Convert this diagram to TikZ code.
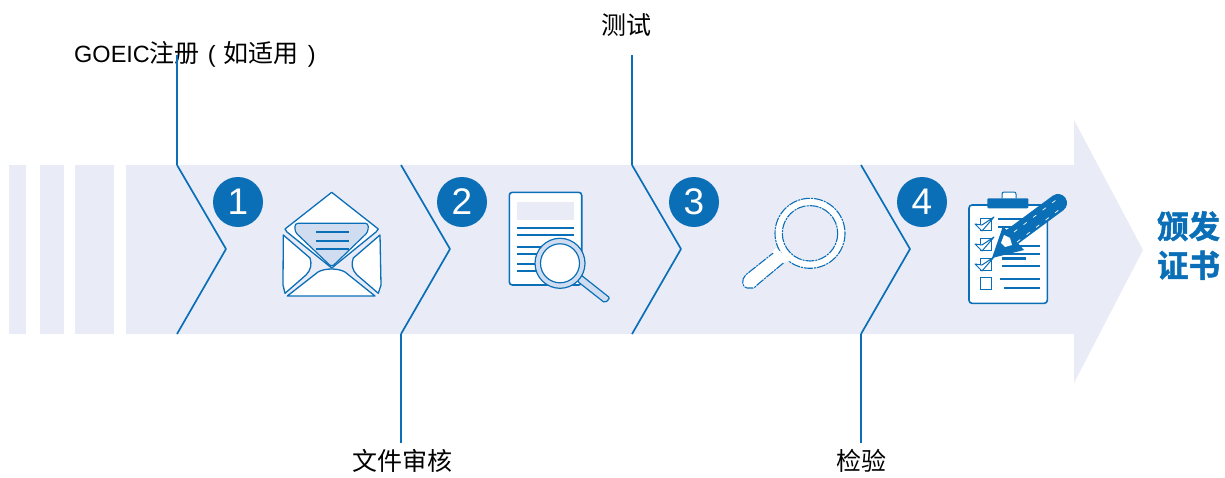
\documentclass[tikz,border=0pt]{standalone}
\usepackage{fontspec}
\setmainfont{Liberation Sans}
\newfontfamily\cjk{Noto Sans CJK SC}
\newfontfamily\cjkb[BoldFont={Noto Sans CJK SC Bold},BoldFeatures={FakeBold=1.6}]{Noto Sans CJK SC}
\definecolor{bandc}{HTML}{E9ECF7}
\definecolor{blue1}{HTML}{0B6FB8}
\definecolor{lilac}{HTML}{D0DDF0}
\tikzset{
  band/.style={fill=bandc,draw=none},
  chev/.style={draw=blue1,line width=1.7pt,line join=round},
  lead/.style={draw=blue1,line width=2pt},
  numdot/.style={circle,fill=blue1,text=white,minimum size=50pt,inner sep=0pt,font=\fontsize{37}{37}\selectfont},
  lbl/.style={text=black,inner sep=0pt,font=\fontsize{25}{25}\selectfont\cjk},
  whitepart/.style={fill=white,draw=blue1,line width=1.3pt,line join=round},
  inkline/.style={draw=blue1,line width=2.2pt},
  thinpart/.style={fill=white,draw=blue1,line width=1.1pt,dash pattern=on 9pt off 1pt on 2pt off 1pt},
}
\newcommand{\latinpart}[1]{{\fontspec{Liberation Sans}\fontsize{23.5}{25}\selectfont #1}}
\begin{document}
\begin{tikzpicture}[x=1pt,y=-1pt]
\useasboundingbox (0,0) rectangle (1225,477);
% band
\fill[band] (9,165) rectangle (26,334);
\fill[band] (40,165) rectangle (64,334);
\fill[band] (75,165) rectangle (114,334);
\fill[band] (126,165) -- (1074,165) -- (1074,120) -- (1143,250) -- (1074,383) -- (1074,334) -- (126,334) -- cycle;
% labels
\node[lbl,anchor=west] (l1) at (74,54) {\latinpart{GOEIC}注册\hspace{8pt}\latinpart{(}\hspace{8pt}如适用\hspace{9pt}\latinpart{)}};
\node[lbl] (l2) at (402.5,461) {文件审核};
\node[lbl] (l3) at (626.5,25) {测试};
\node[lbl] (l4) at (861.5,461) {检验};
% chevrons
\coordinate (c1t) at (177,165); \coordinate (c1m) at (226,249); \coordinate (c1b) at (177,334);
\coordinate (c2t) at (401,165); \coordinate (c2m) at (450,249); \coordinate (c2b) at (401,334);
\coordinate (c3t) at (632,165); \coordinate (c3m) at (681,249); \coordinate (c3b) at (632,334);
\coordinate (c4t) at (861,165); \coordinate (c4m) at (910,249); \coordinate (c4b) at (861,334);
\coordinate (e1) at (177,55); \coordinate (e2) at (401,443); \coordinate (e3) at (632,55); \coordinate (e4) at (861,443);
\draw[chev] (c1t) -- (c1m) -- (c1b);
\draw[chev] (c2t) -- (c2m) -- (c2b);
\draw[chev] (c3t) -- (c3m) -- (c3b);
\draw[chev] (c4t) -- (c4m) -- (c4b);
\draw[lead] (e1) -- (c1t);
\draw[lead] (c2b) -- (e2);
\draw[lead] (e3) -- (c3t);
\draw[lead] (c4b) -- (e4);
% numbers
\node[numdot] (n1) at (238,202) {1};
\node[numdot] (n2) at (462,202) {2};
\node[numdot] (n3) at (694,202) {3};
\node[numdot] (n4) at (922,202) {4};
% envelope
\draw[whitepart] (331.7,192.3) -- (378.3,229) -- (376,232) -- (331.7,268) -- (287,232) -- (285,229) -- cycle;
\draw[draw=blue1,fill=lilac,line width=1.2pt,rounded corners=3pt] (295,223.3) -- (368.3,223.3) -- (368,232) -- (331.7,267) -- (295,232) -- cycle;
\draw[whitepart] (283.3,235) -- (310,258) .. controls (312,264) and (311,270) .. (306,275) -- (285,293.3) -- (283,285) -- cycle;
\draw[whitepart] (380,235) -- (353.3,258) .. controls (351,264) and (352,270) .. (357,275) -- (378.3,293.3) -- (381,285) -- cycle;
\draw[whitepart] (287.3,296) -- (318,272) .. controls (325,268) and (338,268) .. (345,272) -- (375,296) -- cycle;
\draw[inkline] (316,232.3) -- (349,232.3);
\draw[inkline] (316,241) -- (349,241);
\draw[inkline] (316,249.3) -- (349,249.3);
% document
\draw[fill=white,draw=blue1,line width=1.6pt,rounded corners=3pt] (509.3,192.3) rectangle (581.7,285);
\fill[bandc] (516.7,201.7) rectangle (574,220);
\foreach \yy in {228.3,235,247.3,254.3,264.3,271}{\draw[inkline] (517.3,\yy) -- (574,\yy);}
\draw[fill=lilac,draw=blue1,line width=1.2pt,line join=round,rounded corners=2pt] (577,281) -- (605,303) -- (610,298) -- (581,275) -- cycle;
\draw[fill=lilac,draw=blue1,line width=1.2pt] (560,263.3) circle[radius=25];
\draw[fill=white,draw=blue1,line width=1.2pt] (560,263.3) circle[radius=19.5];
% magnifier
\path[thinpart,rounded corners=3pt] (778.3,249) -- (748,273) .. controls (741,279) and (742,288) .. (750,288) .. controls (753,288) and (755,287) .. (757,285) -- (787,260) -- cycle;
\path[thinpart] (810,233.3) circle[radius=35];
\fill[white] (776,248) -- (790,260) -- (784,263) -- (772,252) -- cycle;
\path[thinpart,fill=bandc] (810,233.3) circle[radius=27.7];
% clipboard
\draw[whitepart,line width=1.6pt,rounded corners=3pt] (969,205) rectangle (1047.3,303.3);
\draw[draw=blue1,fill=white,line width=1pt,rounded corners=2pt] (1002,198.3) -- (1002,192) -- (1016,192) -- (1016,198.3);
\fill[blue1,rounded corners=1pt] (987.3,198.3) rectangle (1028.3,208.3);
\foreach \yy in {218,238,258}{
  \draw[draw=blue1,fill=white,line width=1pt] (980.7,\yy) rectangle (991.7,\yy+12);
  \draw[draw=blue1,fill=white,line width=1pt,line join=round] (975,\yy+6) -- (982,\yy+13) -- (994,\yy-1) -- (982,\yy+7) -- cycle;
}
\draw[draw=blue1,line width=1pt] (980.7,277) rectangle (991.7,289.5);
\draw[inkline] (998,219) -- (1030,219);
\draw[inkline] (998,227) -- (1030,227);
\draw[inkline] (1003,246) -- (1040,246);
\draw[inkline] (1000,254) -- (1040,254);
\draw[line width=3pt,blue1] (1002,258.5) -- (1026,258.5);
\draw[inkline] (1002,266) -- (1040,266);
\draw[inkline] (1000,279) -- (1040,279);
\draw[inkline] (1004,288) -- (1040,288);
% pencil
\draw[blue1,line width=18pt,line cap=round] (1008,240) -- (1058,203);
\fill[blue1] (992,258) -- (1003,226) -- (1024,250) -- cycle;
\fill[white] (1004,235) -- (1010,238) -- (1012,245) -- (1005,247) -- (1001,243) -- cycle;
\draw[white,line width=.7pt,dash pattern=on 4pt off 8pt] (1014,232) -- (1056,200);
\draw[white,line width=.7pt,dash pattern=on 4pt off 8pt] (1017,242) -- (1060,209);
% title
\node[inner sep=0pt,text=blue1,align=center,font=\fontsize{31.5}{39}\selectfont\cjkb\bfseries] (t) at (1188.5,245.5) {颁发\\证书};
\end{tikzpicture}
\end{document}
